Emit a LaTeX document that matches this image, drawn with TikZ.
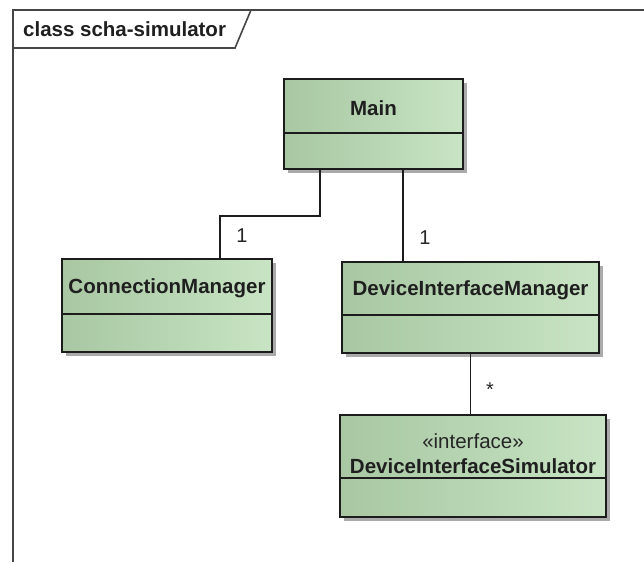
\documentclass[tikz,border=0pt]{standalone}
\usepackage{fontspec}
\setmainfont{Liberation Sans}
\usetikzlibrary{shadows}
\definecolor{framegray}{RGB}{70,70,70}
\definecolor{boxline}{RGB}{28,28,28}
\definecolor{greendark}{RGB}{168,199,162}
\definecolor{greenlight}{RGB}{200,228,196}
\definecolor{shadowgray}{RGB}{170,170,170}
\begin{document}
\begin{tikzpicture}[x=1pt,y=-1pt,
  every node/.style={font=\fontsize{20.5}{24}\selectfont, inner sep=0pt},
  classbox/.style={draw=boxline, line width=1.5pt, left color=greendark, right color=greenlight,
    drop shadow={shadow xshift=4pt, shadow yshift=-4pt, fill=shadowgray, opacity=1}},
  sepline/.style={draw=boxline, line width=1.5pt},
  assoc/.style={draw=boxline, line width=1.5pt},
  title/.style={font=\bfseries\fontsize{20.5}{24}\selectfont, text=black!88},
  mult/.style={font=\fontsize{20}{24}\selectfont, text=black!85}]
\useasboundingbox (0,0) rectangle (644,562);
\fill[white] (0,0) rectangle (644,562);

% diagram frame and name tab
\draw[framegray, line width=1.6pt] (13,562) -- (13,10) -- (644,10);
\draw[framegray, line width=1.6pt] (13,48) -- (235,48) -- (251,10);
\node[title, anchor=base west] (frametitle) at (23,36) {class scha-simulator};

% classes
\node[classbox, minimum width=179pt, minimum height=90pt] (main) at (373.5,124) {};
\draw[sepline] (main.west |- 0,133) -- (main.east |- 0,133);
\node[title] (mainname) at (373.5,108) {Main};

\node[classbox, minimum width=210pt, minimum height=93pt] (cm) at (167,305.5) {};
\draw[sepline] (cm.west |- 0,314) -- (cm.east |- 0,314);
\node[title] (cmname) at (167,288) {ConnectionManager};

\node[classbox, minimum width=257pt, minimum height=91pt] (dim) at (470.5,307.5) {};
\draw[sepline] (dim.west |- 0,315) -- (dim.east |- 0,315);
\node[title] (dimname) at (470.5,290) {DeviceInterfaceManager};

\node[classbox, minimum width=266pt, minimum height=102pt] (dis) at (473,466) {};
\draw[sepline] (dis.west |- 0,478) -- (dis.east |- 0,478);
\node[text=black!85] (disstereo) at (473,441) {«interface»};
\node[title] (disname) at (473,466) {DeviceInterfaceSimulator};

% associations
\draw[assoc] ([xshift=-53.5pt]main.south) -- ++(0,-46pt) -| ([xshift=53pt]cm.north);
\draw[assoc] ([xshift=29.5pt]main.south) -- ([xshift=29.5pt]main.south |- dim.north);
\draw[assoc] (dim.south) -- (dim.south |- dis.north);

% multiplicities
\node[mult] (m1) at (242,236) {1};
\node[mult] (m2) at (425,238) {1};
\node[mult] (m3) at (490,390) {*};
\end{tikzpicture}
\end{document}
